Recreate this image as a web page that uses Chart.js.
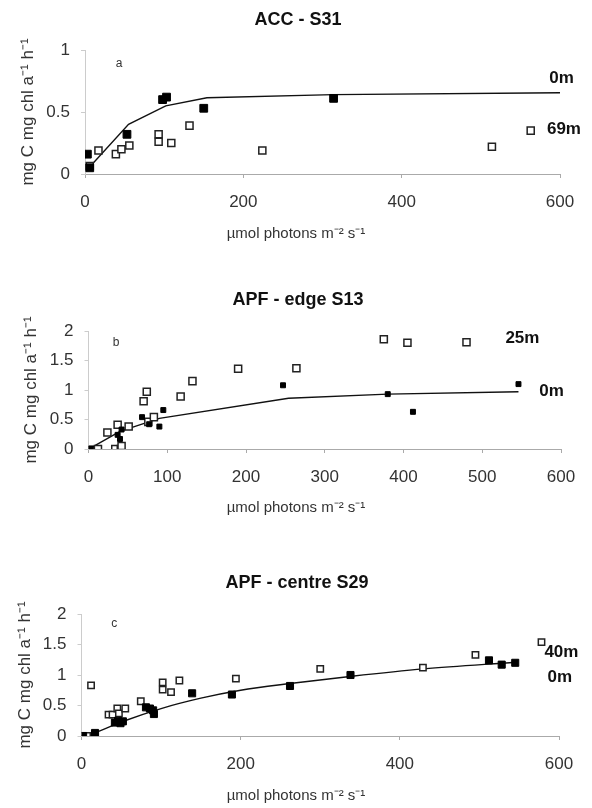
<!DOCTYPE html>
<html>
<head>
<meta charset="utf-8">
<script src="https://cdn.jsdelivr.net/npm/chart.js@4.4.1/dist/chart.umd.min.js"></script>
<style>
  body { margin: 0; background: #fff; }
  .panel { position: absolute; left: 0; }
</style>
</head>
<body>
<div class="panel" style="top:0px"><canvas id="accChart" width="592" height="250"></canvas></div>
<div class="panel" style="top:270px"><canvas id="edgeChart" width="592" height="260"></canvas></div>
<div class="panel" style="top:553px"><canvas id="centreChart" width="592" height="255"></canvas></div>
<script>
// ACC - S31
const accSurfX = [3, 6, 53, 98, 103, 150, 314];
const accSurfY = [0.16, 0.05, 0.32, 0.6, 0.62, 0.53, 0.61];
const accDeepX = [6, 17, 39, 46, 56, 93, 93, 109, 132, 224, 514, 563];
const accDeepY = [0.065, 0.19, 0.16, 0.2, 0.23, 0.32, 0.26, 0.25, 0.39, 0.19, 0.22, 0.35];
const accFitX = [5, 55, 102, 154, 314, 600];
const accFitY = [0.05, 0.4, 0.55, 0.615, 0.64, 0.655];

// APF - edge S13
const edgeSurfX = [3, 37, 40, 42, 68, 77, 90, 95, 247, 380, 412, 546];
const edgeSurfY = [0.01, 0.24, 0.17, 0.33, 0.54, 0.42, 0.38, 0.66, 1.08, 0.93, 0.63, 1.1];
const edgeDeepX = [12, 24, 34, 37, 41, 42, 51, 70, 74, 76, 83, 117, 132, 190, 264, 375, 405, 480];
const edgeDeepY = [0, 0.28, 0, 0.41, 0, 0.05, 0.38, 0.81, 0.97, 0.46, 0.54, 0.89, 1.15, 1.36, 1.37, 1.86, 1.8, 1.81];
const edgeFitX = [3, 40, 90, 254, 380, 546];
const edgeFitY = [0.02, 0.3, 0.52, 0.86, 0.93, 0.97];

// APF - centre S29
const centreSurfX = [2, 17, 42, 46, 49, 52, 81, 86, 90, 91, 139, 189, 262, 338, 512, 528, 545];
const centreSurfY = [0, 0.05, 0.22, 0.25, 0.21, 0.24, 0.47, 0.45, 0.42, 0.36, 0.7, 0.68, 0.82, 1.0, 1.24, 1.17, 1.2];
const centreDeepX = [7, 12, 34, 39, 45, 47, 55, 74.5, 102, 102, 112.5, 123, 194, 300, 429, 495, 578];
const centreDeepY = [0, 0.83, 0.35, 0.35, 0.45, 0.37, 0.45, 0.57, 0.88, 0.76, 0.72, 0.91, 0.94, 1.1, 1.12, 1.33, 1.54];
const centreFitX = [0, 20, 50, 100, 150, 200, 262, 340, 430, 545];
const centreFitY = [0, 0.07, 0.23, 0.45, 0.62, 0.75, 0.86, 0.98, 1.1, 1.21];

const yTicks = ["0", "0.5", "1", "1.5", "2"];
const xCaption = "\u00b5mol photons m\u207b\u00b2 s\u207b\u00b9";
const yCaption = "mg C mg chl a\u207b\u00b9 h\u207b\u00b9";

const FONT = '"Liberation Sans", Arial, sans-serif';

function toPoints(xs, ys) {
  return xs.map((x, i) => ({x: x, y: ys[i]}));
}

// title, x caption, depth tags and panel letter
const panelText = {
  id: "panelText",
  afterDraw(chart, args, o) {
    const c = chart.ctx;
    const sx = chart.scales.x, sy = chart.scales.y;
    c.save();
    c.textAlign = "center";
    c.textBaseline = "middle";
    c.fillStyle = "#111";
    c.font = "bold 18px " + FONT;
    c.fillText(o.title, o.titleX, o.titleY);
    c.fillStyle = "#333";
    c.font = "15px " + FONT;
    c.fillText(xCaption, o.captionX, o.captionY);
    c.fillStyle = "#111";
    c.font = "bold 17px " + FONT;
    o.tags.forEach(t => {
      c.fillText(t.text, sx.getPixelForValue(t.x), sy.getPixelForValue(t.y));
    });
    c.fillStyle = "#333";
    c.font = "12px " + FONT;
    c.fillText(o.letter.text, sx.getPixelForValue(o.letter.x), sy.getPixelForValue(o.letter.y));
    c.restore();
  }
};

function makePanel(id, p) {
  const ctx = document.getElementById(id).getContext("2d");
  return new Chart(ctx, {
    type: "scatter",
    data: {
      datasets: [
        {
          data: toPoints(p.surfX, p.surfY),
          pointStyle: "rect",
          pointRadius: p.surfR,
          backgroundColor: "#000",
          borderColor: "#000",
          borderWidth: 1
        },
        {
          data: toPoints(p.deepX, p.deepY),
          pointStyle: "rect",
          pointRadius: p.deepR,
          backgroundColor: "#fff",
          borderColor: "#222",
          borderWidth: 1.5
        },
        {
          data: toPoints(p.fitX, p.fitY),
          showLine: true,
          pointRadius: 0,
          borderColor: "#111",
          borderWidth: 1.4,
          tension: p.smooth ? 0.4 : 0,
          cubicInterpolationMode: p.smooth ? "monotone" : "default"
        }
      ]
    },
    options: {
      responsive: false,
      animation: false,
      layout: { padding: { top: p.padTop, right: p.padRight, bottom: p.padBottom, left: 0 } },
      plugins: {
        legend: { display: false },
        tooltip: { enabled: false },
        panelText: p.text
      },
      scales: {
        x: {
          type: "linear",
          min: 0,
          max: 600,
          ticks: { stepSize: p.xStep, padding: 14, color: "#333", font: { family: FONT, size: 17 } },
          grid: { drawOnChartArea: false, tickLength: 4, color: "#aaa" },
          border: { color: "#aaa" },
          afterFit(s) { s.height = 45; }
        },
        y: {
          min: 0,
          max: p.yMax,
          ticks: {
            stepSize: 0.5,
            padding: 11,
            color: "#333",
            font: { family: FONT, size: 17 },
            callback: v => yTicks[Math.round(v * 2)]
          },
          grid: { drawOnChartArea: false, tickLength: 4, color: "#ccc" },
          border: { color: "#ccc" },
          title: {
            display: true,
            text: yCaption,
            color: "#333",
            font: { family: FONT, size: 17 },
            padding: { top: p.yTitlePad, bottom: 0 }
          },
          afterFit(s) { s.width = p.yAxisW; }
        }
      }
    },
    plugins: [panelText]
  });
}

makePanel("accChart", {
  surfX: accSurfX, surfY: accSurfY, deepX: accDeepX, deepY: accDeepY, fitX: accFitX, fitY: accFitY,
  surfR: 5.5, deepR: 5, smooth: false, xStep: 200, yMax: 1,
  padTop: 50, padRight: 32, padBottom: 31, yAxisW: 85, yTitlePad: 18,
  text: {
    title: "ACC - S31", titleX: 298, titleY: 20, captionX: 296, captionY: 234,
    tags: [{text: "0m", x: 602, y: 0.774}, {text: "69m", x: 605, y: 0.363}],
    letter: {text: "a", x: 43, y: 0.89}
  }
});

makePanel("edgeChart", {
  surfX: edgeSurfX, surfY: edgeSurfY, deepX: edgeDeepX, deepY: edgeDeepY, fitX: edgeFitX, fitY: edgeFitY,
  surfR: 3.5, deepR: 5, smooth: false, xStep: 100, yMax: 2,
  padTop: 61, padRight: 31, padBottom: 36, yAxisW: 88.5, yTitlePad: 21,
  text: {
    title: "APF - edge S13", titleX: 298, titleY: 30.5, captionX: 296, captionY: 238,
    tags: [{text: "25m", x: 551, y: 1.88}, {text: "0m", x: 588, y: 0.98}],
    letter: {text: "b", x: 35, y: 1.8}
  }
});

makePanel("centreChart", {
  surfX: centreSurfX, surfY: centreSurfY, deepX: centreDeepX, deepY: centreDeepY, fitX: centreFitX, fitY: centreFitY,
  surfR: 5, deepR: 4.5, smooth: true, xStep: 200, yMax: 2,
  padTop: 61, padRight: 33, padBottom: 27, yAxisW: 81.5, yTitlePad: 15,
  text: {
    title: "APF - centre S29", titleX: 297, titleY: 30.3, captionX: 296, captionY: 243,
    tags: [{text: "40m", x: 603, y: 1.38}, {text: "0m", x: 601, y: 0.96}],
    letter: {text: "c", x: 41, y: 1.84}
  }
});
</script>
</body>
</html>
